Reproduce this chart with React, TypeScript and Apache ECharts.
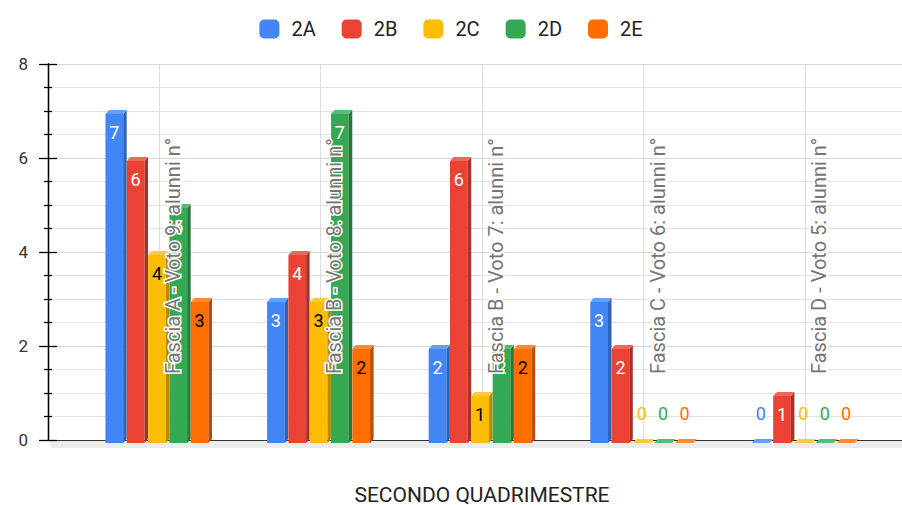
import React, { useEffect, useRef } from "react";
import * as echarts from "echarts";

const categories = [
  "Fascia A - Voto 9: alunni n°",
  "Fascia B - Voto 8: alunni n°",
  "Fascia B - Voto 7: alunni n°",
  "Fascia C - Voto 6: alunni n°",
  "Fascia D - Voto 5: alunni n°",
];
const classes = ["2A", "2B", "2C", "2D", "2E"];
const values2A = [7, 3, 2, 3, 0];
const values2B = [6, 4, 6, 2, 1];
const values2C = [4, 3, 1, 0, 0];
const values2D = [5, 7, 2, 0, 0];
const values2E = [3, 2, 2, 0, 0];
const seriesValues = [values2A, values2B, values2C, values2D, values2E];
const yTicks = [0, 2, 4, 6, 8];
const xTitle = "SECONDO QUADRIMESTRE";

const mainColors = ["#4285F4", "#EA4335", "#FBBC04", "#34A853", "#FF6D01"];
const sideColors = ["#2F63B8", "#A8322A", "#B98A00", "#25773B", "#B84E00"];
const topColors = ["#6A9EF6", "#EE675B", "#FCCB3D", "#5CB975", "#FF8A35"];
const labelColors = ["#ffffff", "#ffffff", "#000000", "#ffffff", "#000000"];

export default function App() {
  const ref = useRef<HTMLDivElement>(null);
  useEffect(() => {
    document.body.style.margin = "0";
    if (!ref.current) return;
    const chart = echarts.init(ref.current, null, { renderer: "svg" });
    const font = "Roboto";

    const renderItem = (params: any, api: any) => {
      const idx = params.seriesIndex;
      const x = api.value(0);
      const v = api.value(1);
      const base = api.coord([x, 0]);
      const top = api.coord([x, v]);
      const band = api.size([1, 0])[0];
      const slot = band * 0.132;
      const front = slot * 0.83;
      const dx = 3.5;
      const dy = 4;
      const left = base[0] - 2.5 * slot + idx * slot;
      const fy = top[1] + 3;
      const by = base[1] + 3;
      const children: any[] = [];
      if (v > 0) {
        children.push({
          type: "rect",
          shape: { x: left, y: fy, width: front, height: by - fy },
          style: { fill: mainColors[idx] },
        });
        children.push({
          type: "polygon",
          shape: {
            points: [
              [left + front, fy],
              [left + front + dx, fy - dy],
              [left + front + dx, by - dy],
              [left + front, by],
            ],
          },
          style: { fill: sideColors[idx] },
        });
      }
      children.push({
        type: "polygon",
        shape: {
          points: [
            [left, fy],
            [left + dx, fy - dy],
            [left + front + dx, fy - dy],
            [left + front, fy],
          ],
        },
        style: { fill: topColors[idx] },
      });
      children.push({
        type: "text",
        x: left + front / 2,
        y: v === 0 ? base[1] - 27 : fy + 18.5,
        style: {
          text: String(v),
          fill: v === 0 ? mainColors[idx] : labelColors[idx],
          fontSize: 18,
          fontFamily: font,
          align: "center",
          verticalAlign: "middle",
        },
      });
      return { type: "group", children };
    };

    const series: any[] = classes.map((name, i) => ({
      name,
      type: "custom",
      xAxisIndex: 1,
      yAxisIndex: 2,
      z: 2,
      itemStyle: { color: mainColors[i] },
      encode: { x: 0, y: 1 },
      data: seriesValues[i].map((val, c) => [c, val]),
      renderItem,
      markLine:
        i === 0
          ? {
              silent: true,
              symbol: "none",
              z: 1,
              label: { show: false },
              lineStyle: { color: "#dcdcdc", width: 1, type: "solid" },
              data: categories.map((c) => ({ xAxis: c })),
            }
          : undefined,
    }));

    const gridBase = { top: 64, bottom: 65, outerBoundsMode: "none", containLabel: false };

    chart.setOption({
      animation: false,
      legend: {
        data: classes,
        top: 14,
        left: "center",
        icon: "roundRect",
        itemWidth: 20,
        itemHeight: 19,
        itemGap: 26,
        textStyle: { fontSize: 20, color: "#222", fontFamily: font, padding: [0, 0, 0, 7] },
      },
      grid: [
        { ...gridBase, left: 48, right: 0 },
        { ...gridBase, left: 78, right: 16 },
        { ...gridBase, left: 48, right: 0 },
      ],
      xAxis: [
        {
          type: "value",
          gridIndex: 0,
          min: 0,
          max: 1,
          axisLine: { show: true, lineStyle: { color: "#333", width: 1 } },
          axisTick: { show: false },
          axisLabel: { show: false },
          splitLine: { show: false },
        },
        {
          type: "category",
          gridIndex: 1,
          data: categories,
          z: 10,
          axisLine: { show: false },
          axisTick: { show: false },
          splitLine: { show: false },
          axisLabel: {
            inside: true,
            rotate: 90,
            margin: 66,
            interval: 0,
            color: "#757575",
            fontSize: 20,
            fontFamily: font,
            verticalAlign: "top",
            lineHeight: 28,
            textBorderColor: "#ffffff",
            textBorderWidth: 3,
          },
          name: xTitle,
          nameLocation: "middle",
          nameGap: 44,
          nameTextStyle: { fontSize: 21, lineHeight: 21, color: "#222", fontFamily: font },
        },
        {
          type: "value",
          gridIndex: 2,
          min: 0,
          max: 1,
          show: false,
        },
      ],
      yAxis: [
        {
          type: "value",
          gridIndex: 0,
          position: "left",
          min: yTicks[0],
          max: yTicks[yTicks.length - 1],
          interval: 2,
          axisLine: { show: true, lineStyle: { color: "#000", width: 1.3 } },
          axisTick: { show: true, length: 9, lineStyle: { color: "#000", width: 1.3 } },
          minorTick: { show: true, splitNumber: 4, length: 4, lineStyle: { color: "#000", width: 1.3 } },
          splitLine: { show: true, lineStyle: { color: "#d6d6d6", width: 1 } },
          minorSplitLine: { show: true, lineStyle: { color: "#e2e2e2", width: 1 } },
          axisLabel: { color: "#333", fontSize: 17, fontFamily: font, margin: 20 },
        },
        {
          type: "value",
          gridIndex: 2,
          position: "left",
          min: yTicks[0],
          max: yTicks[yTicks.length - 1],
          interval: 2,
          axisLine: { show: true, lineStyle: { color: "#000", width: 1.3 } },
          axisTick: { show: true, inside: true, length: 9, lineStyle: { color: "#000", width: 1.3 } },
          minorTick: { show: true, splitNumber: 4, length: 4, lineStyle: { color: "#000", width: 1.3 } },
          splitLine: { show: false },
          axisLabel: { show: false },
        },
        {
          type: "value",
          gridIndex: 1,
          min: yTicks[0],
          max: yTicks[yTicks.length - 1],
          interval: 2,
          show: false,
          splitLine: { show: false },
        },
      ],
      graphic: [
        {
          type: "polygon",
          z: 0,
          silent: true,
          shape: { points: [[49, 441], [902, 441], [902, 448], [51, 448]] },
          style: { fill: "#ececec" },
        },
      ],
      series,
    });
    return () => chart.dispose();
  }, []);
  return <div ref={ref} style={{ width: 902, height: 505 }} />;
}
